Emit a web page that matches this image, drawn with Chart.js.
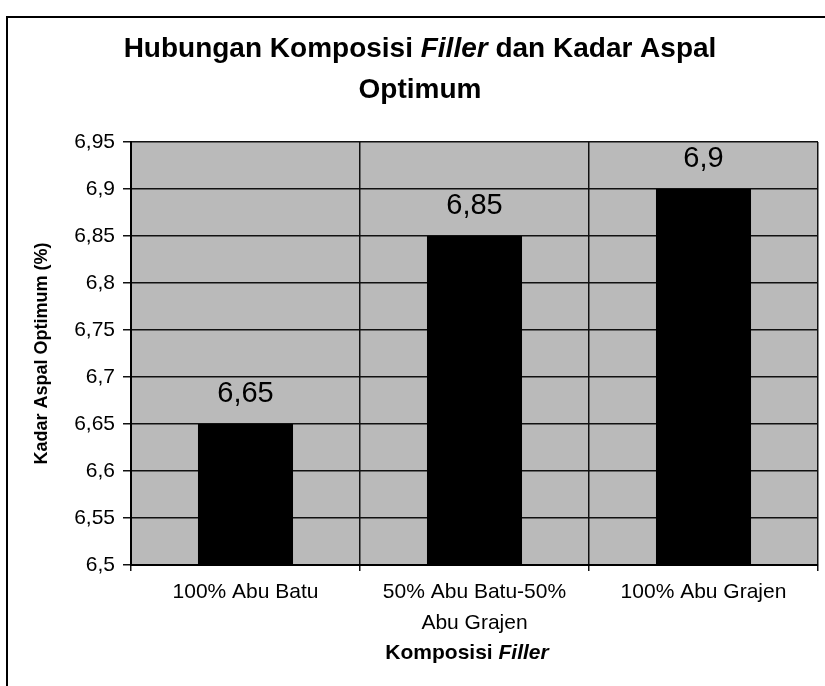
<!DOCTYPE html>
<html>
<head>
<meta charset="utf-8">
<script src="https://cdn.jsdelivr.net/npm/chart.js@4/dist/chart.umd.min.js"></script>
<style>
  html, body { margin: 0; padding: 0; background: #fff; }
  #wrap { position: relative; width: 825px; height: 686px; }
</style>
</head>
<body>
<div id="wrap"><canvas id="chart"></canvas></div>
<script>
// data
const categories = ["100% Abu Batu", ["50% Abu Batu-50%", "Abu Grajen"], "100% Abu Grajen"];
const kadarAspal = [6.65, 6.85, 6.9];
const yTicks = [6.5, 6.55, 6.6, 6.65, 6.7, 6.75, 6.8, 6.85, 6.9, 6.95];

const FONT = "'Liberation Sans', Arial, Helvetica, sans-serif";

// 6.65 -> "6,65"
function fmt(v) {
    return String(parseFloat(v.toFixed(2))).replace(".", ",");
}

// draw text made of several styled pieces, centred on cx
function drawRich(ctx, parts, cx, y) {
    let total = 0;
    parts.forEach(p => {
        ctx.font = p[0] + " " + FONT;
        total += ctx.measureText(p[1]).width;
    });
    let x = cx - total / 2;
    ctx.textAlign = "left";
    ctx.textBaseline = "alphabetic";
    ctx.fillStyle = "#000";
    parts.forEach(p => {
        ctx.font = p[0] + " " + FONT;
        ctx.fillText(p[1], x, y);
        x += ctx.measureText(p[1]).width;
    });
}

const plotBackground = {
    id: "plotBackground",
    beforeDraw(chart) {
        const {ctx, chartArea: a} = chart;
        ctx.save();
        ctx.fillStyle = "#bababa";
        ctx.fillRect(a.left, a.top, a.right - a.left, a.bottom - a.top);
        ctx.restore();
    }
};

const valueLabels = {
    id: "valueLabels",
    afterDatasetsDraw(chart) {
        const ctx = chart.ctx;
        const meta = chart.getDatasetMeta(0);
        ctx.save();
        ctx.font = "normal 29px " + FONT;
        ctx.fillStyle = "#000";
        ctx.textAlign = "center";
        ctx.textBaseline = "alphabetic";
        meta.data.forEach((bar, i) => {
            ctx.fillText(fmt(kadarAspal[i]), bar.x, bar.y - 22);
        });
        ctx.restore();
    }
};

const texts = {
    id: "texts",
    afterDraw(chart) {
        const ctx = chart.ctx;
        ctx.save();
        // frame of the scanned figure
        ctx.strokeStyle = "#000";
        ctx.lineWidth = 2;
        ctx.beginPath();
        ctx.moveTo(825, 17);
        ctx.lineTo(7, 17);
        ctx.lineTo(7, 686);
        ctx.stroke();

        drawRich(ctx, [
            ["bold 28px", "Hubungan Komposisi "],
            ["italic bold 28px", "Filler"],
            ["bold 28px", " dan Kadar Aspal"]
        ], 420, 57);
        drawRich(ctx, [["bold 28px", "Optimum"]], 420, 98);

        drawRich(ctx, [
            ["bold 21px", "Komposisi "],
            ["italic bold 21px", "Filler"]
        ], 467, 659);
        ctx.restore();
    }
};

new Chart(document.getElementById("chart"), {
    type: "bar",
    data: {
        labels: categories,
        datasets: [{
            data: kadarAspal,
            backgroundColor: "#000",
            borderWidth: 0,
            barPercentage: 0.415,
            categoryPercentage: 1
        }]
    },
    options: {
        responsive: true,
        maintainAspectRatio: false,
        animation: false,
        layout: { padding: { top: 142, right: 7, bottom: 0, left: 0 } },
        plugins: {
            legend: { display: false },
            title: { display: false },
            tooltip: { enabled: false }
        },
        scales: {
            x: {
                afterFit(s) { s.height = 121; },
                grid: { color: "#111", lineWidth: 1.5, tickLength: 6, offset: true },
                border: { color: "#000", width: 2 },
                ticks: {
                    color: "#000",
                    padding: 5,
                    maxRotation: 0,
                    font: { family: FONT, size: 21, lineHeight: 1.5 }
                }
            },
            y: {
                min: 6.5,
                max: 6.95,
                afterFit(s) { s.width = 131; },
                afterBuildTicks(s) { s.ticks = yTicks.map(v => ({ value: v })); },
                grid: { color: "#111", lineWidth: 1.5, tickLength: 8 },
                border: { color: "#000", width: 2 },
                ticks: {
                    color: "#000",
                    padding: 8,
                    font: { family: FONT, size: 21 },
                    callback: v => fmt(v)
                },
                title: {
                    display: true,
                    text: "Kadar Aspal Optimum (%)",
                    color: "#000",
                    padding: { top: 31, bottom: 0 },
                    font: { family: FONT, size: 18, weight: "bold" }
                }
            }
        }
    },
    plugins: [plotBackground, valueLabels, texts]
});
</script>
</body>
</html>
